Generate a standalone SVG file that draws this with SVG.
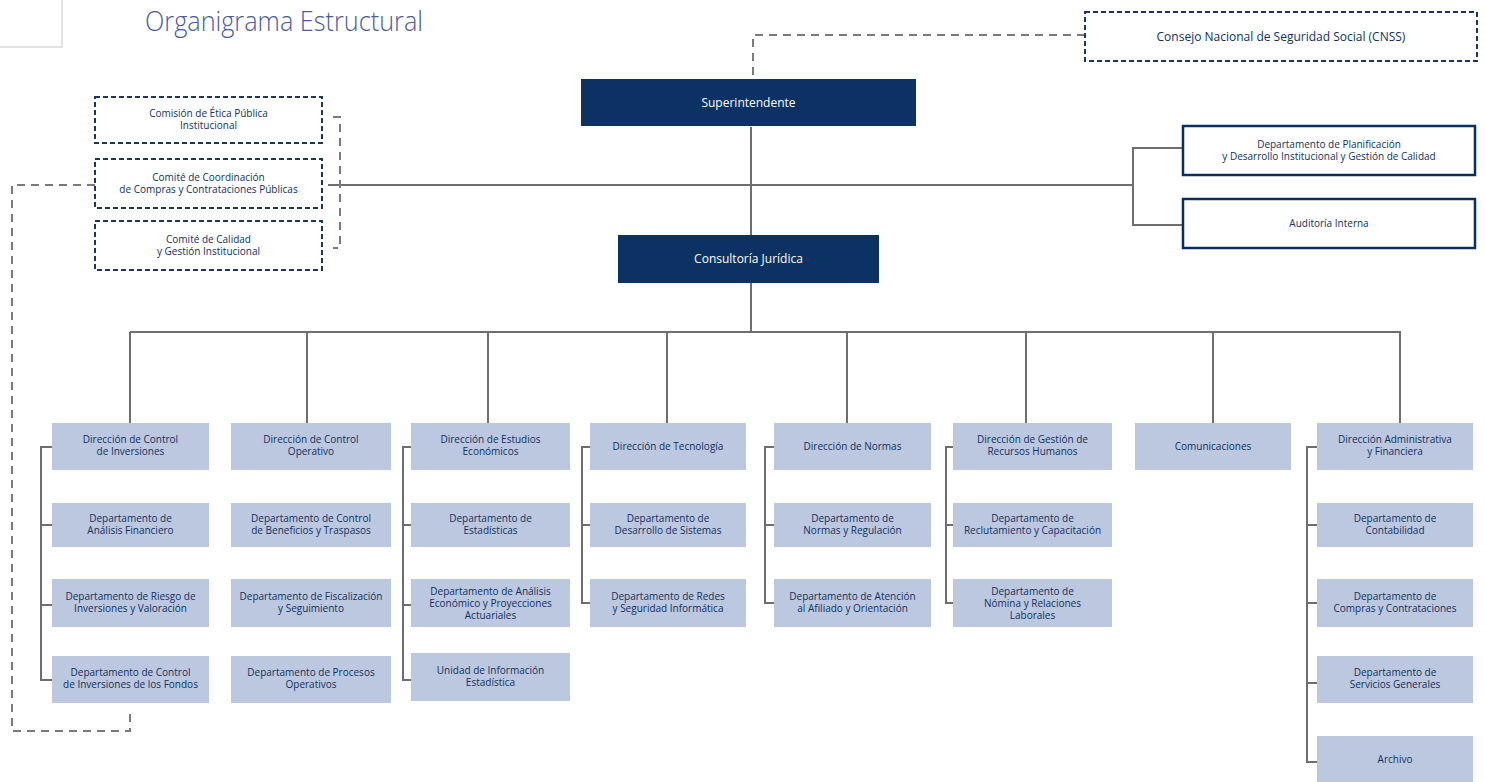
<svg xmlns="http://www.w3.org/2000/svg" width="1485" height="782" viewBox="0 0 1485 782">
<style>
.t{font-family:"Open Sans","Liberation Sans",sans-serif;font-size:10px;fill:#10305f;text-anchor:middle}
.w{fill:#ffffff;font-size:12px}
.big{font-size:12px}
.box{fill:#bcc8e0}
.dk{fill:#0c3163}
.ol{fill:#ffffff;stroke:#0d2d5a;stroke-width:2.5}
.dsh{fill:#ffffff;stroke:#1b3563;stroke-width:2;stroke-dasharray:5 3}
.c{stroke:#6e6e6e;stroke-width:2;fill:none}
.cd{stroke:#7a7a7a;stroke-width:2;fill:none;stroke-dasharray:8 6}
</style>
<rect width="1485" height="782" fill="#ffffff"/>
<rect x="-1" y="-1" width="63" height="48" fill="none" stroke="#c8c8c8" stroke-width="1"/>
<text x="145" y="31" font-family="'Open Sans','Liberation Sans',sans-serif" font-size="27" font-weight="300" fill="#4b5b9b" textLength="278" lengthAdjust="spacingAndGlyphs">Organigrama Estructural</text>

<g id="connectors">
<path class="cd" d="M1085,35 H753 V79"/>
<path class="c" d="M751,127 V235"/>
<path class="c" d="M328,185 H1133"/>
<path class="c" d="M1183,148 H1133 V225 H1183"/>
<path class="cd" d="M333,117 H340 V248 H333"/>
<path class="cd" d="M95,185 H12 V731 H130 V714"/>
<path class="c" d="M751,283 V332"/>
<path class="c" d="M130,332 H1401"/>
<path class="c" d="M130,332 V423 M307,332 V423 M488,332 V423 M667,332 V423 M847,332 V423 M1026,332 V423 M1213,332 V423 M1400,332 V423"/>
<path class="c" d="M52,447 H41 V680 H52 M41,525 H52 M41,605 H52"/>
<path class="c" d="M411,447 H403 V680 H411 M403,525 H411 M403,605 H411"/>
<path class="c" d="M590,447 H582 V603 H590 M582,525 H590"/>
<path class="c" d="M774,447 H765 V603 H774 M765,525 H774"/>
<path class="c" d="M953,447 H946 V603 H953 M946,525 H953"/>
<path class="c" d="M1317,447 H1307 V762 H1317 M1307,525 H1317 M1307,603 H1317 M1307,683 H1317"/>
</g>

<g id="cnss"><rect class="dsh" x="1085" y="12" width="392" height="49"/><text class="t big" x="1281" y="41">Consejo Nacional de Seguridad Social (CNSS)</text></g>
<g id="superintendente"><rect class="dk" x="581" y="79" width="335" height="47"/><text class="t w" x="748.5" y="107">Superintendente</text></g>
<g id="consultoria"><rect class="dk" x="618" y="235" width="261" height="48"/><text class="t w" x="748.5" y="263">Consultoría Jurídica</text></g>

<g id="comite1"><rect class="dsh" x="95" y="97" width="227" height="46"/><text class="t" x="208.5" y="117"><tspan x="208.5">Comisión de Ética Pública</tspan><tspan x="208.5" dy="12">Institucional</tspan></text></g>
<g id="comite2"><rect class="dsh" x="95" y="159" width="227" height="49"/><text class="t" x="208.5" y="181"><tspan x="208.5">Comité de Coordinación</tspan><tspan x="208.5" dy="12">de Compras y Contrataciones Públicas</tspan></text></g>
<g id="comite3"><rect class="dsh" x="95" y="221" width="227" height="49"/><text class="t" x="208.5" y="243"><tspan x="208.5">Comité de Calidad</tspan><tspan x="208.5" dy="12">y Gestión Institucional</tspan></text></g>

<g id="planificacion"><rect class="ol" x="1183" y="126" width="292" height="49"/><text class="t" x="1329" y="148"><tspan x="1329">Departamento de Planificación</tspan><tspan x="1329" dy="12">y Desarrollo Institucional y Gestión de Calidad</tspan></text></g>
<g id="auditoria"><rect class="ol" x="1183" y="199" width="292" height="49"/><text class="t" x="1329" y="227">Auditoría Interna</text></g>

<g id="c1h"><rect class="box" x="52" y="423" width="157" height="47"/><text class="t" x="130.5" y="443"><tspan x="130.5">Dirección de Control</tspan><tspan x="130.5" dy="12">de Inversiones</tspan></text></g>
<g id="c1a"><rect class="box" x="52" y="503" width="157" height="44"/><text class="t" x="130.5" y="522"><tspan x="130.5">Departamento de</tspan><tspan x="130.5" dy="12">Análisis Financiero</tspan></text></g>
<g id="c1b"><rect class="box" x="52" y="579" width="157" height="48"/><text class="t" x="130.5" y="600"><tspan x="130.5">Departamento de Riesgo de</tspan><tspan x="130.5" dy="12">Inversiones y Valoración</tspan></text></g>
<g id="c1c"><rect class="box" x="52" y="656" width="157" height="47"/><text class="t" x="130.5" y="676"><tspan x="130.5">Departamento de Control</tspan><tspan x="130.5" dy="12">de Inversiones de los Fondos</tspan></text></g>

<g id="c2h"><rect class="box" x="231" y="423" width="160" height="47"/><text class="t" x="311" y="443"><tspan x="311">Dirección de Control</tspan><tspan x="311" dy="12">Operativo</tspan></text></g>
<g id="c2a"><rect class="box" x="231" y="503" width="160" height="44"/><text class="t" x="311" y="522"><tspan x="311">Departamento de Control</tspan><tspan x="311" dy="12">de Beneficios y Traspasos</tspan></text></g>
<g id="c2b"><rect class="box" x="231" y="579" width="160" height="48"/><text class="t" x="311" y="600"><tspan x="311">Departamento de Fiscalización</tspan><tspan x="311" dy="12">y Seguimiento</tspan></text></g>
<g id="c2c"><rect class="box" x="231" y="656" width="160" height="47"/><text class="t" x="311" y="676"><tspan x="311">Departamento de Procesos</tspan><tspan x="311" dy="12">Operativos</tspan></text></g>

<g id="c3h"><rect class="box" x="411" y="423" width="159" height="47"/><text class="t" x="490.5" y="443"><tspan x="490.5">Dirección de Estudios</tspan><tspan x="490.5" dy="12">Económicos</tspan></text></g>
<g id="c3a"><rect class="box" x="411" y="503" width="159" height="44"/><text class="t" x="490.5" y="522"><tspan x="490.5">Departamento de</tspan><tspan x="490.5" dy="12">Estadísticas</tspan></text></g>
<g id="c3b"><rect class="box" x="411" y="579" width="159" height="48"/><text class="t" x="490.5" y="594.5"><tspan x="490.5">Departamento de Análisis</tspan><tspan x="490.5" dy="12">Económico y Proyecciones</tspan><tspan x="490.5" dy="12">Actuariales</tspan></text></g>
<g id="c3c"><rect class="box" x="411" y="653" width="159" height="48"/><text class="t" x="490.5" y="674"><tspan x="490.5">Unidad de Información</tspan><tspan x="490.5" dy="12">Estadística</tspan></text></g>

<g id="c4h"><rect class="box" x="590" y="423" width="156" height="47"/><text class="t" x="668" y="450">Dirección de Tecnología</text></g>
<g id="c4a"><rect class="box" x="590" y="503" width="156" height="44"/><text class="t" x="668" y="522"><tspan x="668">Departamento de</tspan><tspan x="668" dy="12">Desarrollo de Sistemas</tspan></text></g>
<g id="c4b"><rect class="box" x="590" y="579" width="156" height="48"/><text class="t" x="668" y="600"><tspan x="668">Departamento de Redes</tspan><tspan x="668" dy="12">y Seguridad Informática</tspan></text></g>

<g id="c5h"><rect class="box" x="774" y="423" width="157" height="47"/><text class="t" x="852.5" y="450">Dirección de Normas</text></g>
<g id="c5a"><rect class="box" x="774" y="503" width="157" height="44"/><text class="t" x="852.5" y="522"><tspan x="852.5">Departamento de</tspan><tspan x="852.5" dy="12">Normas y Regulación</tspan></text></g>
<g id="c5b"><rect class="box" x="774" y="579" width="157" height="48"/><text class="t" x="852.5" y="600"><tspan x="852.5">Departamento de Atención</tspan><tspan x="852.5" dy="12">al Afiliado y Orientación</tspan></text></g>

<g id="c6h"><rect class="box" x="953" y="423" width="159" height="47"/><text class="t" x="1032.5" y="443"><tspan x="1032.5">Dirección de Gestión de</tspan><tspan x="1032.5" dy="12">Recursos Humanos</tspan></text></g>
<g id="c6a"><rect class="box" x="953" y="503" width="159" height="44"/><text class="t" x="1032.5" y="522"><tspan x="1032.5">Departamento de</tspan><tspan x="1032.5" dy="12">Reclutamiento y Capacitación</tspan></text></g>
<g id="c6b"><rect class="box" x="953" y="579" width="159" height="48"/><text class="t" x="1032.5" y="594.5"><tspan x="1032.5">Departamento de</tspan><tspan x="1032.5" dy="12">Nómina y Relaciones</tspan><tspan x="1032.5" dy="12">Laborales</tspan></text></g>

<g id="c7h"><rect class="box" x="1135" y="423" width="156" height="47"/><text class="t" x="1213" y="450">Comunicaciones</text></g>

<g id="c8h"><rect class="box" x="1317" y="423" width="156" height="47"/><text class="t" x="1395" y="443"><tspan x="1395">Dirección Administrativa</tspan><tspan x="1395" dy="12">y Financiera</tspan></text></g>
<g id="c8a"><rect class="box" x="1317" y="503" width="156" height="44"/><text class="t" x="1395" y="522"><tspan x="1395">Departamento de</tspan><tspan x="1395" dy="12">Contabilidad</tspan></text></g>
<g id="c8b"><rect class="box" x="1317" y="579" width="156" height="48"/><text class="t" x="1395" y="600"><tspan x="1395">Departamento de</tspan><tspan x="1395" dy="12">Compras y Contrataciones</tspan></text></g>
<g id="c8c"><rect class="box" x="1317" y="656" width="156" height="47"/><text class="t" x="1395" y="676"><tspan x="1395">Departamento de</tspan><tspan x="1395" dy="12">Servicios Generales</tspan></text></g>
<g id="c8d"><rect class="box" x="1317" y="736" width="156" height="47"/><text class="t" x="1395" y="763">Archivo</text></g>
</svg>
